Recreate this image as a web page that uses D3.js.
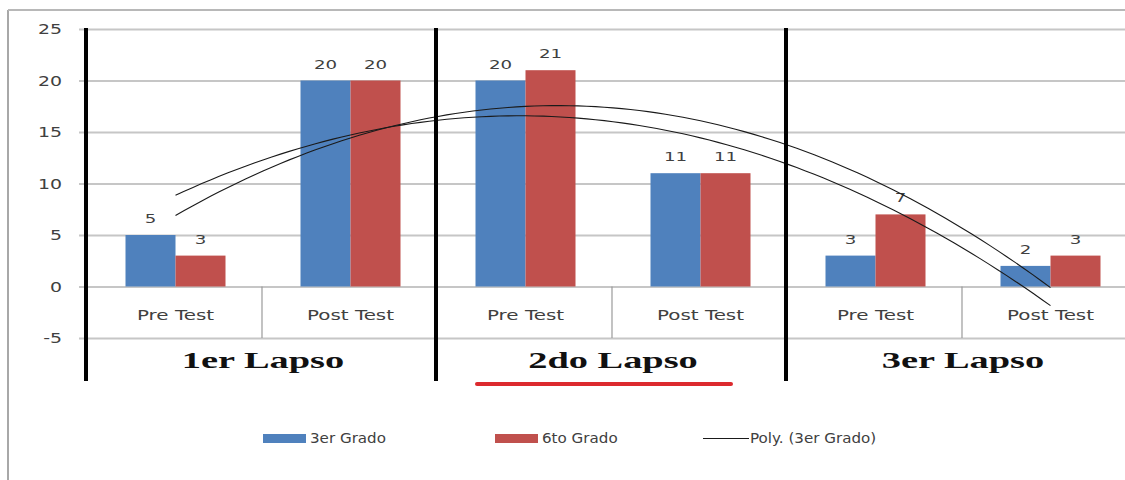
<!DOCTYPE html>
<html>
<head>
<meta charset="utf-8">
<script src="https://cdn.jsdelivr.net/npm/d3@7/dist/d3.min.js"></script>
<style>
  html, body { margin: 0; padding: 0; background: #fff; }
  svg { display: block; }
</style>
</head>
<body>
<svg id="chart" width="1125" height="480"></svg>
<script>
// Test scores per period: pre/post test for each "lapso"
const categories = ["Pre Test", "Post Test", "Pre Test", "Post Test", "Pre Test", "Post Test"];
const periods = ["1er Lapso", "2do Lapso", "3er Lapso"];
const seriesNames = ["3er Grado", "6to Grado"];
const tercerGrado = [5, 20, 20, 11, 3, 2];
const sextoGrado = [3, 20, 21, 11, 7, 3];
const yTicks = [-5, 0, 5, 10, 15, 20, 25];
const trendLabel = "Poly. (3er Grado)";

const colors = { "3er Grado": "#4f81bd", "6to Grado": "#c0504d" };
const seriesValues = { "3er Grado": tercerGrado, "6to Grado": sextoGrado };

const svg = d3.select("#chart");
const textColor = "#404040";
const sansFont = "'DejaVu Sans', Verdana, sans-serif";
const serifFont = "'Liberation Serif', 'Times New Roman', serif";

// Place a text element at (x, y) and widen it horizontally
function placeText(sel, x, y, sx) {
  sel.attr("x", 0).attr("y", 0)
     .attr("transform", `translate(${x},${y}) scale(${sx},1)`);
  return sel;
}

const plotLeft = 88, plotRight = 1138;
const axisX = 86;
const x = d3.scaleBand().domain(d3.range(categories.length)).range([plotLeft, plotRight]).padding(0);
const x1 = d3.scaleBand().domain(seriesNames).range([0, x.bandwidth()]).paddingInner(0).paddingOuter(0.75);
const y = d3.scaleLinear().domain([-5, 25]).range([338, 29]);

// Chart frame
svg.append("line").attr("x1", 8).attr("x2", 8).attr("y1", 10).attr("y2", 480)
  .attr("stroke", "#a8a8a8").attr("stroke-width", 2);
svg.append("line").attr("x1", 8).attr("x2", 1125).attr("y1", 10).attr("y2", 10)
  .attr("stroke", "#b8b8b8").attr("stroke-width", 2);

// Gridlines with short tick marks left of the axis
const yAxis = d3.axisLeft(y).tickValues(yTicks).tickSize(-(1125 - axisX)).tickPadding(16).tickFormat(d3.format("d"));
const gAxis = svg.append("g").attr("transform", `translate(${axisX},0)`).call(yAxis);
gAxis.select(".domain").remove();
gAxis.selectAll(".tick line").attr("stroke", "#c6c6c6").attr("stroke-width", 2).attr("x1", -7);
gAxis.selectAll(".tick text").each(function (d) {
  const t = d3.select(this);
  t.attr("font-family", sansFont).attr("font-size", 14).attr("fill", textColor)
   .attr("text-anchor", "end").attr("dy", null).attr("dominant-baseline", "central");
  placeText(t, -24, 0, 1.35);
}).text(d => d < 0 ? "-" + Math.abs(d) : d);

// Category separators below the zero line
svg.append("g").selectAll("line")
  .data(d3.range(1, categories.length))
  .join("line")
  .attr("x1", d => x(d) - 1).attr("x2", d => x(d) - 1)
  .attr("y1", y(0)).attr("y2", y(-5))
  .attr("stroke", "#9a9a9a").attr("stroke-width", 1.2);

// Bars
const bars = svg.append("g");
seriesNames.forEach(name => {
  bars.selectAll(null)
    .data(seriesValues[name])
    .join("rect")
    .attr("x", (d, i) => x(i) + x1(name))
    .attr("width", x1.bandwidth())
    .attr("y", d => y(Math.max(0, d)))
    .attr("height", d => Math.abs(y(d) - y(0)))
    .attr("fill", colors[name]);
});

// Value labels above bars
const labels = svg.append("g");
seriesNames.forEach(name => {
  labels.selectAll(null)
    .data(seriesValues[name])
    .join("text")
    .attr("font-family", sansFont).attr("font-size", 13).attr("fill", textColor)
    .attr("text-anchor", "middle")
    .text(d => d)
    .each(function (d, i) {
      placeText(d3.select(this), x(i) + x1(name) + x1.bandwidth() / 2, y(d) - 12, 1.4);
    });
});

// Quadratic least-squares trendlines
function quadFit(vals) {
  const xs = vals.map((_, i) => i + 1);
  const S = k => d3.sum(xs, v => Math.pow(v, k));
  const T = k => d3.sum(xs, (v, i) => Math.pow(v, k) * vals[i]);
  const A = [[S(0), S(1), S(2)], [S(1), S(2), S(3)], [S(2), S(3), S(4)]];
  const b = [T(0), T(1), T(2)];
  // Gaussian elimination
  for (let c = 0; c < 3; c++) {
    for (let r = c + 1; r < 3; r++) {
      const f = A[r][c] / A[c][c];
      for (let k = c; k < 3; k++) A[r][k] -= f * A[c][k];
      b[r] -= f * b[c];
    }
  }
  const coef = [0, 0, 0];
  for (let r = 2; r >= 0; r--) {
    let s = b[r];
    for (let k = r + 1; k < 3; k++) s -= A[r][k] * coef[k];
    coef[r] = s / A[r][r];
  }
  return t => coef[0] + coef[1] * t + coef[2] * t * t;
}
const centerX = t => x(0) + x.bandwidth() / 2 + (t - 1) * x.step();
const trendLine = d3.line().x(p => centerX(p[0])).y(p => y(p[1]));
seriesNames.forEach(name => {
  const f = quadFit(seriesValues[name]);
  const pts = d3.range(1, 6.0001, 0.05).map(t => [t, f(t)]);
  svg.append("path").datum(pts).attr("d", trendLine)
    .attr("fill", "none").attr("stroke", "#1a1a1a").attr("stroke-width", 1.1);
});

// Category labels
svg.append("g").selectAll("text")
  .data(categories)
  .join("text")
  .attr("font-family", sansFont).attr("font-size", 14).attr("fill", textColor)
  .attr("text-anchor", "middle")
  .text(d => d)
  .each(function (d, i) {
    placeText(d3.select(this), x(i) + x.bandwidth() / 2, 320, 1.42);
  });

// Period separators (thick black)
svg.append("g").selectAll("line")
  .data(d3.range(0, categories.length, 2))
  .join("line")
  .attr("x1", d => x(d) - 2).attr("x2", d => x(d) - 2)
  .attr("y1", y(25) - 1).attr("y2", 381)
  .attr("stroke", "#000").attr("stroke-width", 4);

// Period labels
svg.append("g").selectAll("text")
  .data(periods)
  .join("text")
  .attr("font-family", serifFont).attr("font-size", 24).attr("font-weight", "bold").attr("fill", "#111")
  .attr("text-anchor", "middle")
  .text(d => d)
  .each(function (d, i) {
    placeText(d3.select(this), x(i * 2 + 1), 368, 1.6);
  });

// Red underline for the middle period
svg.append("line")
  .attr("x1", x(3) - 136).attr("x2", x(3) + 118)
  .attr("y1", 384).attr("y2", 384)
  .attr("stroke", "#dc2a2e").attr("stroke-width", 4).attr("stroke-linecap", "round");

// Legend
const legend = svg.append("g");
const legendItems = [
  { label: seriesNames[0], type: "rect", color: colors["3er Grado"], x: 263 },
  { label: seriesNames[1], type: "rect", color: colors["6to Grado"], x: 495 },
  { label: trendLabel, type: "line", color: "#1a1a1a", x: 703 }
];
legendItems.forEach(it => {
  if (it.type === "rect") {
    legend.append("rect").attr("x", it.x).attr("y", 434).attr("width", 43).attr("height", 9).attr("fill", it.color);
  } else {
    legend.append("line").attr("x1", it.x).attr("x2", it.x + 46).attr("y1", 438.5).attr("y2", 438.5)
      .attr("stroke", it.color).attr("stroke-width", 1.1);
  }
  const t = legend.append("text")
    .attr("font-family", sansFont).attr("font-size", 13.5).attr("fill", textColor)
    .text(it.label);
  placeText(t, it.x + 47, 443, 1.12);
});
</script>
</body>
</html>
